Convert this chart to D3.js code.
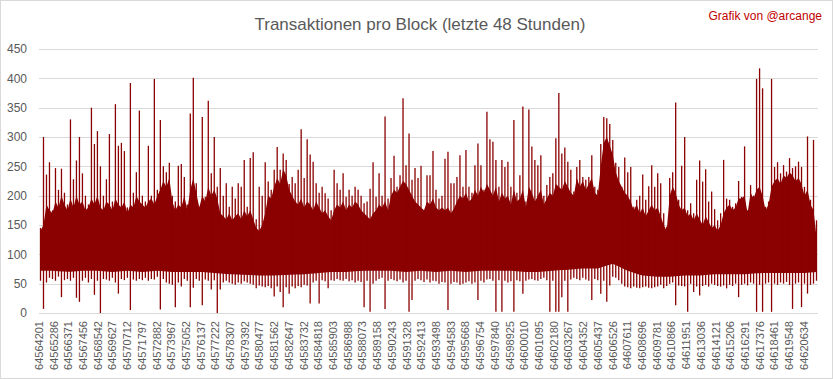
<!DOCTYPE html>
<html>
<head>
<meta charset="utf-8">
<script src="https://cdn.jsdelivr.net/npm/d3@7"></script>
<style>
  html, body { margin: 0; padding: 0; background: #fff; }
  svg { display: block; font-family: "Liberation Sans", Arial, sans-serif; }
</style>
</head>
<body>
<svg id="chart" width="833" height="379"></svg>
<script>
const title = 'Transaktionen pro Block (letzte 48 Stunden)'
const credit = 'Grafik von @arcange'

const yTicks = [0, 50, 100, 150, 200, 250, 300, 350, 400, 450]

const blockLabels = [
  64564201, 64565286, 64566371, 64567456, 64568542, 64569627, 64570712, 64571797,
  64572882, 64573967, 64575052, 64576137, 64577222, 64578307, 64579392, 64580477,
  64581562, 64582647, 64583732, 64584818, 64585903, 64586988, 64588073, 64589158,
  64590243, 64591328, 64592413, 64593498, 64594583, 64595668, 64596754, 64597840,
  64598925, 64600010, 64601095, 64602180, 64603267, 64604352, 64605437, 64606526,
  64607611, 64608696, 64609781, 64610866, 64611951, 64613036, 64614121, 64615206,
  64616291, 64617376, 64618461, 64619548, 64620634
]
const firstBlock = 64564201
const lastBlock = 64621669

// per group of blocks (260 groups over 48h): highest value
const txMax = [
  145, 300, 236, 257, 175, 247, 210, 246, 205, 185, 330, 228, 260, 300, 238, 200, 185, 350, 288, 310,
  250, 200, 228, 305, 190, 356, 285, 290, 276, 180, 392, 205, 240, 345, 200, 190, 285, 200, 399, 210,
  329, 250, 240, 256, 200, 190, 251, 254, 232, 185, 340, 401, 221, 181, 334, 198, 362, 238, 300, 215,
  247, 200, 221, 181, 215, 195, 221, 215, 261, 181, 264, 274, 160, 215, 200, 257, 224, 210, 244, 283,
  244, 272, 261, 220, 232, 221, 244, 313, 230, 296, 270, 258, 221, 205, 215, 204, 195, 175, 244, 221,
  210, 238, 198, 210, 200, 215, 210, 200, 187, 190, 212, 257, 198, 238, 200, 335, 195, 230, 268, 215,
  235, 366, 252, 306, 227, 247, 230, 251, 175, 235, 235, 276, 210, 195, 200, 263, 275, 221, 221, 232,
  269, 215, 278, 215, 205, 252, 289, 252, 210, 343, 296, 292, 261, 215, 261, 249, 258, 215, 329, 205,
  235, 352, 190, 347, 284, 261, 252, 269, 200, 218, 232, 238, 298, 375, 272, 282, 258, 244, 207, 249,
  261, 232, 227, 232, 269, 215, 210, 288, 334, 332, 322, 295, 256, 249, 215, 265, 240, 249, 181, 193,
  200, 236, 193, 216, 252, 215, 238, 221, 170, 147, 230, 240, 359, 193, 251, 300, 175, 187, 170, 227,
  260, 224, 245, 190, 207, 177, 158, 170, 261, 195, 193, 181, 187, 225, 198, 284, 175, 218, 200, 399,
  417, 383, 181, 190, 399, 249, 257, 238, 252, 241, 264, 247, 250, 258, 249, 215, 301, 193, 295, 158
]
// upper edge of the dense band
const txUpper = [
  140, 150, 185, 175, 170, 190, 180, 200, 185, 175, 195, 180, 200, 185, 190, 175, 180, 195, 185, 200,
  180, 175, 190, 185, 175, 195, 185, 180, 190, 170, 185, 180, 200, 190, 185, 180, 190, 195, 185, 200,
  210, 225, 215, 230, 190, 175, 185, 180, 200, 175, 210, 230, 205, 180, 200, 190, 215, 200, 210, 195,
  170, 165, 160, 170, 158, 165, 170, 160, 175, 165, 175, 160, 145, 140, 150, 170, 200, 195, 215, 230,
  220, 245, 235, 210, 200, 190, 185, 195, 180, 190, 185, 175, 190, 180, 170, 175, 165, 158, 175, 185,
  180, 190, 175, 185, 180, 190, 185, 175, 170, 165, 160, 170, 175, 185, 180, 190, 175, 200, 210, 205,
  215, 225, 220, 210, 200, 190, 185, 180, 175, 190, 185, 195, 180, 175, 180, 175, 180, 170, 178, 190,
  200, 195, 205, 190, 195, 210, 200, 215, 205, 220, 210, 200, 215, 190, 205, 195, 200, 185, 210, 190,
  195, 210, 180, 215, 205, 190, 200, 210, 185, 195, 205, 200, 220, 215, 210, 225, 215, 205, 200, 230,
  215, 225, 210, 220, 230, 205, 200, 250, 290, 300, 285, 270, 240, 225, 215, 205, 200, 190, 175, 185,
  170, 180, 165, 175, 185, 175, 180, 165, 150, 140, 200, 215, 205, 185, 175, 180, 165, 170, 158, 170,
  160, 150, 165, 155, 145, 150, 140, 150, 170, 180, 185, 175, 180, 195, 195, 200, 170, 205, 195, 210,
  215, 200, 175, 185, 215, 225, 230, 220, 235, 230, 240, 235, 225, 230, 220, 200, 210, 185, 175, 130
]
// per group of blocks: lowest value
const txMin = [
  55, 7, 52, 60, 58, 55, 62, 27, 56, 58, 55, 60, 26, 19, 55, 60, 52, 58, 31, 55,
  0, 58, 57, 55, 60, 52, 33, 58, 56, 60, 5, 57, 55, 58, 56, 60, 55, 58, 57, 62,
  6, 58, 52, 50, 48, 10, 52, 45, 58, 55, 10, 43, 58, 55, 13, 57, 55, 40, 56, 0,
  40, 52, 55, 52, 50, 48, 52, 50, 54, 52, 50, 48, 42, 47, 45, 44, 46, 42, 28, 45,
  36, 10, 44, 33, 45, 42, 46, 44, 48, 47, 16, 52, 55, 16, 56, 54, 42, 56, 55, 58,
  56, 55, 58, 54, 56, 52, 55, 53, 10, 55, 2, 50, 55, 58, 60, 7, 55, 58, 56, 54,
  57, 52, 55, 2, 22, 55, 58, 56, 53, 57, 52, 55, 54, 50, 53, 52, 5, 50, 53, 52,
  48, 50, 52, 54, 50, 52, 22, 55, 52, 57, 58, 55, 2, 56, 2, 55, 52, 54, 2, 56,
  54, 33, 55, 57, 58, 56, 55, 58, 60, 56, 2, 55, 2, 2, 27, 55, 2, 57, 60, 58,
  56, 60, 57, 55, 22, 58, 56, 33, 55, 19, 47, 62, 60, 56, 50, 45, 44, 42, 45, 43,
  42, 44, 45, 43, 42, 44, 45, 48, 42, 46, 50, 52, 13, 47, 46, 45, 2, 50, 36, 45,
  30, 46, 48, 45, 50, 48, 46, 45, 47, 42, 48, 46, 50, 27, 48, 50, 47, 52, 50, 2,
  48, 2, 50, 52, 2, 50, 48, 52, 50, 53, 48, 7, 50, 52, 10, 50, 33, 48, 50, 55
]
// lower edge of the dense band, one value per axis label plus the last block
const denseBottom = [
  72, 72, 70, 72, 72, 70, 72, 70, 72, 70, 70, 70, 68, 66, 65, 64, 64, 65, 66, 68,
  70, 70, 72, 72, 72, 70, 72, 70, 72, 70, 72, 72, 72, 70, 70, 72, 74, 76, 76, 84,
  72, 64, 62, 62, 64, 64, 66, 66, 66, 68, 68, 68, 68, 70
]

const width = 833
const height = 379
const margin = { top: 49, right: 15, bottom: 66, left: 39 }
const color = '#8b0000'
const gridColor = '#d9d9d9'
const textColor = '#595959'

const svg = d3.select('#chart')

svg.append('rect')
  .attr('x', 0.5).attr('y', 0.5)
  .attr('width', width - 1).attr('height', height - 1)
  .attr('fill', '#fff')
  .attr('stroke', gridColor)

const x = d3.scaleLinear()
  .domain([firstBlock, lastBlock])
  .range([margin.left, width - margin.right])

const y = d3.scaleLinear()
  .domain([0, 450])
  .range([height - margin.bottom, margin.top])

const groupSize = (lastBlock - firstBlock) / txMax.length
const groupX = (i) => x(firstBlock + (i + 0.5) * groupSize)

// gridlines
svg.append('g')
  .selectAll('line')
  .data(yTicks)
  .enter()
  .append('line')
  .attr('x1', margin.left)
  .attr('x2', width - margin.right)
  .attr('y1', (d) => Math.round(y(d)) + 0.5)
  .attr('y2', (d) => Math.round(y(d)) + 0.5)
  .attr('stroke', gridColor)
  .attr('stroke-width', 1)

// y axis labels
svg.append('g')
  .selectAll('text')
  .data(yTicks)
  .enter()
  .append('text')
  .attr('x', 27)
  .attr('y', (d) => y(d))
  .attr('dy', '0.35em')
  .attr('text-anchor', 'end')
  .attr('font-size', 12)
  .attr('fill', textColor)
  .text((d) => d)

// dense band: jagged top from txUpper, bottom from denseBottom
const bottomAt = d3.scaleLinear()
  .domain(blockLabels.concat([lastBlock]))
  .range(denseBottom)

const area = d3.area()
  .x((d, i) => groupX(i))
  .y0((d, i) => y(bottomAt(firstBlock + (i + 0.5) * groupSize)))
  .y1((d) => y(d))

svg.append('path')
  .datum(txUpper)
  .attr('d', area)
  .attr('fill', color)

// spikes and dips per group of blocks
svg.append('g')
  .selectAll('line')
  .data(txMax)
  .enter()
  .append('line')
  .attr('x1', (d, i) => groupX(i))
  .attr('x2', (d, i) => groupX(i))
  .attr('y1', (d, i) => y(txMin[i]))
  .attr('y2', (d) => y(d))
  .attr('stroke', color)
  .attr('stroke-width', 1.3)

// x axis labels
svg.append('g')
  .selectAll('text')
  .data(blockLabels)
  .enter()
  .append('text')
  .attr('transform', (d) => `translate(${x(d)},${height - margin.bottom + 8}) rotate(-90)`)
  .attr('dy', '0.35em')
  .attr('text-anchor', 'end')
  .attr('font-size', 11)
  .attr('fill', textColor)
  .text((d) => d)

svg.append('text')
  .attr('x', 420)
  .attr('y', 24)
  .attr('dy', '0.35em')
  .attr('text-anchor', 'middle')
  .attr('font-size', 17)
  .attr('fill', textColor)
  .text(title)

svg.append('text')
  .attr('x', 822)
  .attr('y', 16)
  .attr('dy', '0.35em')
  .attr('text-anchor', 'end')
  .attr('font-size', 12)
  .attr('fill', '#c00000')
  .text(credit)
</script>
</body>
</html>
